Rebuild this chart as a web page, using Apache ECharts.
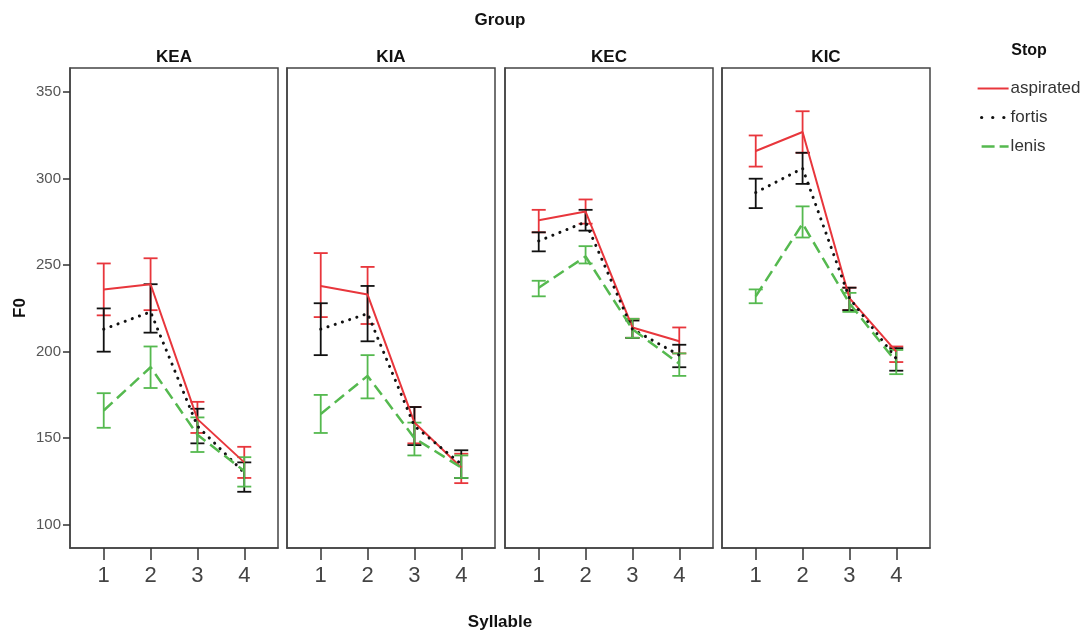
<!DOCTYPE html>
<html>
<head>
<meta charset="utf-8">
<script src="https://cdn.jsdelivr.net/npm/echarts@6/dist/echarts.min.js"></script>
<style>
html,body{margin:0;padding:0;background:#fff;}
#chart{width:1085px;height:634px;}
</style>
</head>
<body>
<div id="chart"></div>
<script>
// ---- data ----
const groups = ['KEA', 'KIA', 'KEC', 'KIC'];
const syllables = [1, 2, 3, 4];
const stops = ['aspirated', 'fortis', 'lenis'];
const yTicks = [100, 150, 200, 250, 300, 350];

// per group (KEA, KIA, KEC, KIC), per syllable 1..4
const aspiratedMean = [[236, 239, 161, 136], [238, 233, 159, 133], [276, 281, 214, 206], [316, 327, 231, 200]];
const aspiratedLow  = [[221, 224, 153, 127], [220, 216, 147, 124], [269, 274, 208, 199], [307, 315, 224, 194]];
const aspiratedHigh = [[251, 254, 171, 145], [257, 249, 168, 141], [282, 288, 219, 214], [325, 339, 237, 203]];

const fortisMean = [[213, 223, 157, 130], [213, 222, 157, 135], [264, 275, 213, 198], [292, 306, 231, 196]];
const fortisLow  = [[200, 211, 147, 119], [198, 206, 146, 127], [258, 270, 208, 191], [283, 297, 224, 189]];
const fortisHigh = [[225, 239, 167, 136], [228, 238, 168, 143], [269, 282, 218, 204], [300, 315, 237, 202]];

const lenisMean = [[166, 191, 152, 131], [164, 186, 150, 133], [237, 255, 213, 193], [232, 274, 228, 194]];
const lenisLow  = [[156, 179, 142, 122], [153, 173, 140, 127], [232, 251, 208, 186], [228, 266, 223, 187]];
const lenisHigh = [[176, 203, 162, 139], [175, 198, 159, 140], [241, 261, 219, 199], [236, 284, 234, 201]];

// ---- styling ----
const FONT = '"Liberation Sans", Arial, sans-serif';
const RED = '#e8363c', BLACK = '#111111', GREEN = '#55b94f';
const stopStyles = {
  aspirated: { color: RED, lineStyle: { color: RED, width: 2, type: 'solid' } },
  fortis: { color: BLACK, lineStyle: { color: BLACK, width: 3, type: [0.1, 7.5], cap: 'round' } },
  lenis: { color: GREEN, lineStyle: { color: GREEN, width: 2.5, type: [12, 6] } }
};
const legendLineStyles = {
  aspirated: { color: RED, width: 2, type: 'solid' },
  fortis: { color: BLACK, width: 3.2, type: [0.1, 11], cap: 'round', dashOffset: -4 },
  lenis: { color: GREEN, width: 2.5, type: [13, 5] }
};
const stopData = {
  aspirated: [aspiratedMean, aspiratedLow, aspiratedHigh],
  fortis: [fortisMean, fortisLow, fortisHigh],
  lenis: [lenisMean, lenisLow, lenisHigh]
};

const gridLefts = [70, 287, 505, 722];
const gridW = 208, gridTop = 68, gridH = 480;

const grids = [], xAxes = [], yAxes = [], series = [], graphics = [];
groups.forEach((g, i) => {
  grids.push({ left: gridLefts[i], top: gridTop, width: gridW, height: gridH,
    show: true, borderColor: '#444', borderWidth: 1.5, backgroundColor: 'transparent' });
  xAxes.push({ type: 'value', gridIndex: i, min: 0.28, max: 4.72,
    axisLine: { show: true, onZero: false, lineStyle: { color: '#444', width: 1.5 } },
    axisTick: { show: true, customValues: syllables, length: 12, lineStyle: { color: '#333', width: 1.5 } },
    axisLabel: { show: true, customValues: syllables, fontFamily: FONT, fontSize: 22, color: '#444', margin: 17 },
    splitLine: { show: false } });
  yAxes.push({ type: 'value', gridIndex: i, min: 86.5, max: 364,
    axisLine: { show: true, onZero: false, lineStyle: { color: '#444', width: 1.5 } },
    axisTick: { show: i === 0, customValues: yTicks, length: 7, lineStyle: { color: '#333', width: 1.5 } },
    axisLabel: { show: i === 0, customValues: yTicks, fontFamily: FONT, fontSize: 15, color: '#555', margin: 9 },
    splitLine: { show: false } });
  graphics.push({ type: 'text', x: gridLefts[i] + gridW / 2, y: 57,
    style: { text: g, textAlign: 'center', textVerticalAlign: 'middle',
      font: 'bold 17px ' + FONT, fill: '#111' } });

  stops.forEach(s => {
    const [mean, low, high] = stopData[s];
    const st = stopStyles[s];
    series.push({
      name: s, type: 'line', xAxisIndex: i, yAxisIndex: i,
      data: syllables.map((x, k) => [x, mean[i][k]]),
      showSymbol: false, symbol: 'none', silent: true,
      color: st.color, lineStyle: st.lineStyle, z: 3
    });
    series.push({
      name: s + ' CI', type: 'custom', xAxisIndex: i, yAxisIndex: i,
      data: syllables.map((x, k) => [x, low[i][k], high[i][k]]),
      encode: { x: 0, y: [1, 2] }, silent: true, z: 2,
      renderItem: (params, api) => {
        const x = api.value(0);
        const lo = api.coord([x, api.value(1)]);
        const hi = api.coord([x, api.value(2)]);
        const hw = 7;
        const style = { stroke: st.color, lineWidth: 1.8 };
        return { type: 'group', children: [
          { type: 'line', shape: { x1: lo[0], y1: lo[1], x2: hi[0], y2: hi[1] }, style },
          { type: 'line', shape: { x1: lo[0] - hw, y1: lo[1], x2: lo[0] + hw, y2: lo[1] }, style },
          { type: 'line', shape: { x1: hi[0] - hw, y1: hi[1], x2: hi[0] + hw, y2: hi[1] }, style }
        ] };
      }
    });
  });
});

graphics.push(
  { type: 'text', x: 500, y: 20, style: { text: 'Group', textAlign: 'center', textVerticalAlign: 'middle', font: 'bold 17px ' + FONT, fill: '#111' } },
  { type: 'text', x: 500, y: 622, style: { text: 'Syllable', textAlign: 'center', textVerticalAlign: 'middle', font: 'bold 17px ' + FONT, fill: '#111' } },
  { type: 'text', x: 20, y: 308, rotation: Math.PI / 2, style: { text: 'F0', textAlign: 'center', textVerticalAlign: 'middle', font: 'bold 17px ' + FONT, fill: '#111' } },
  { type: 'text', x: 1029, y: 51, style: { text: 'Stop', textAlign: 'center', textVerticalAlign: 'middle', font: 'bold 16px ' + FONT, fill: '#111' } }
);

const chart = echarts.init(document.getElementById('chart'));
chart.setOption({
  animation: false,
  backgroundColor: '#fff',
  grid: grids, xAxis: xAxes, yAxis: yAxes, series: series,
  legend: {
    data: stops.map(s => ({ name: s, lineStyle: legendLineStyles[s] })),
    orient: 'vertical', left: 971, top: 75,
    itemWidth: 31, itemHeight: 14, itemGap: 12,
    itemStyle: { opacity: 0, color: 'rgba(0,0,0,0)', borderWidth: 0 },
    textStyle: { fontFamily: FONT, fontSize: 17, color: '#333', padding: [0, 0, 0, -3] },
    selectedMode: false
  },
  graphic: graphics
});
</script>
</body>
</html>
